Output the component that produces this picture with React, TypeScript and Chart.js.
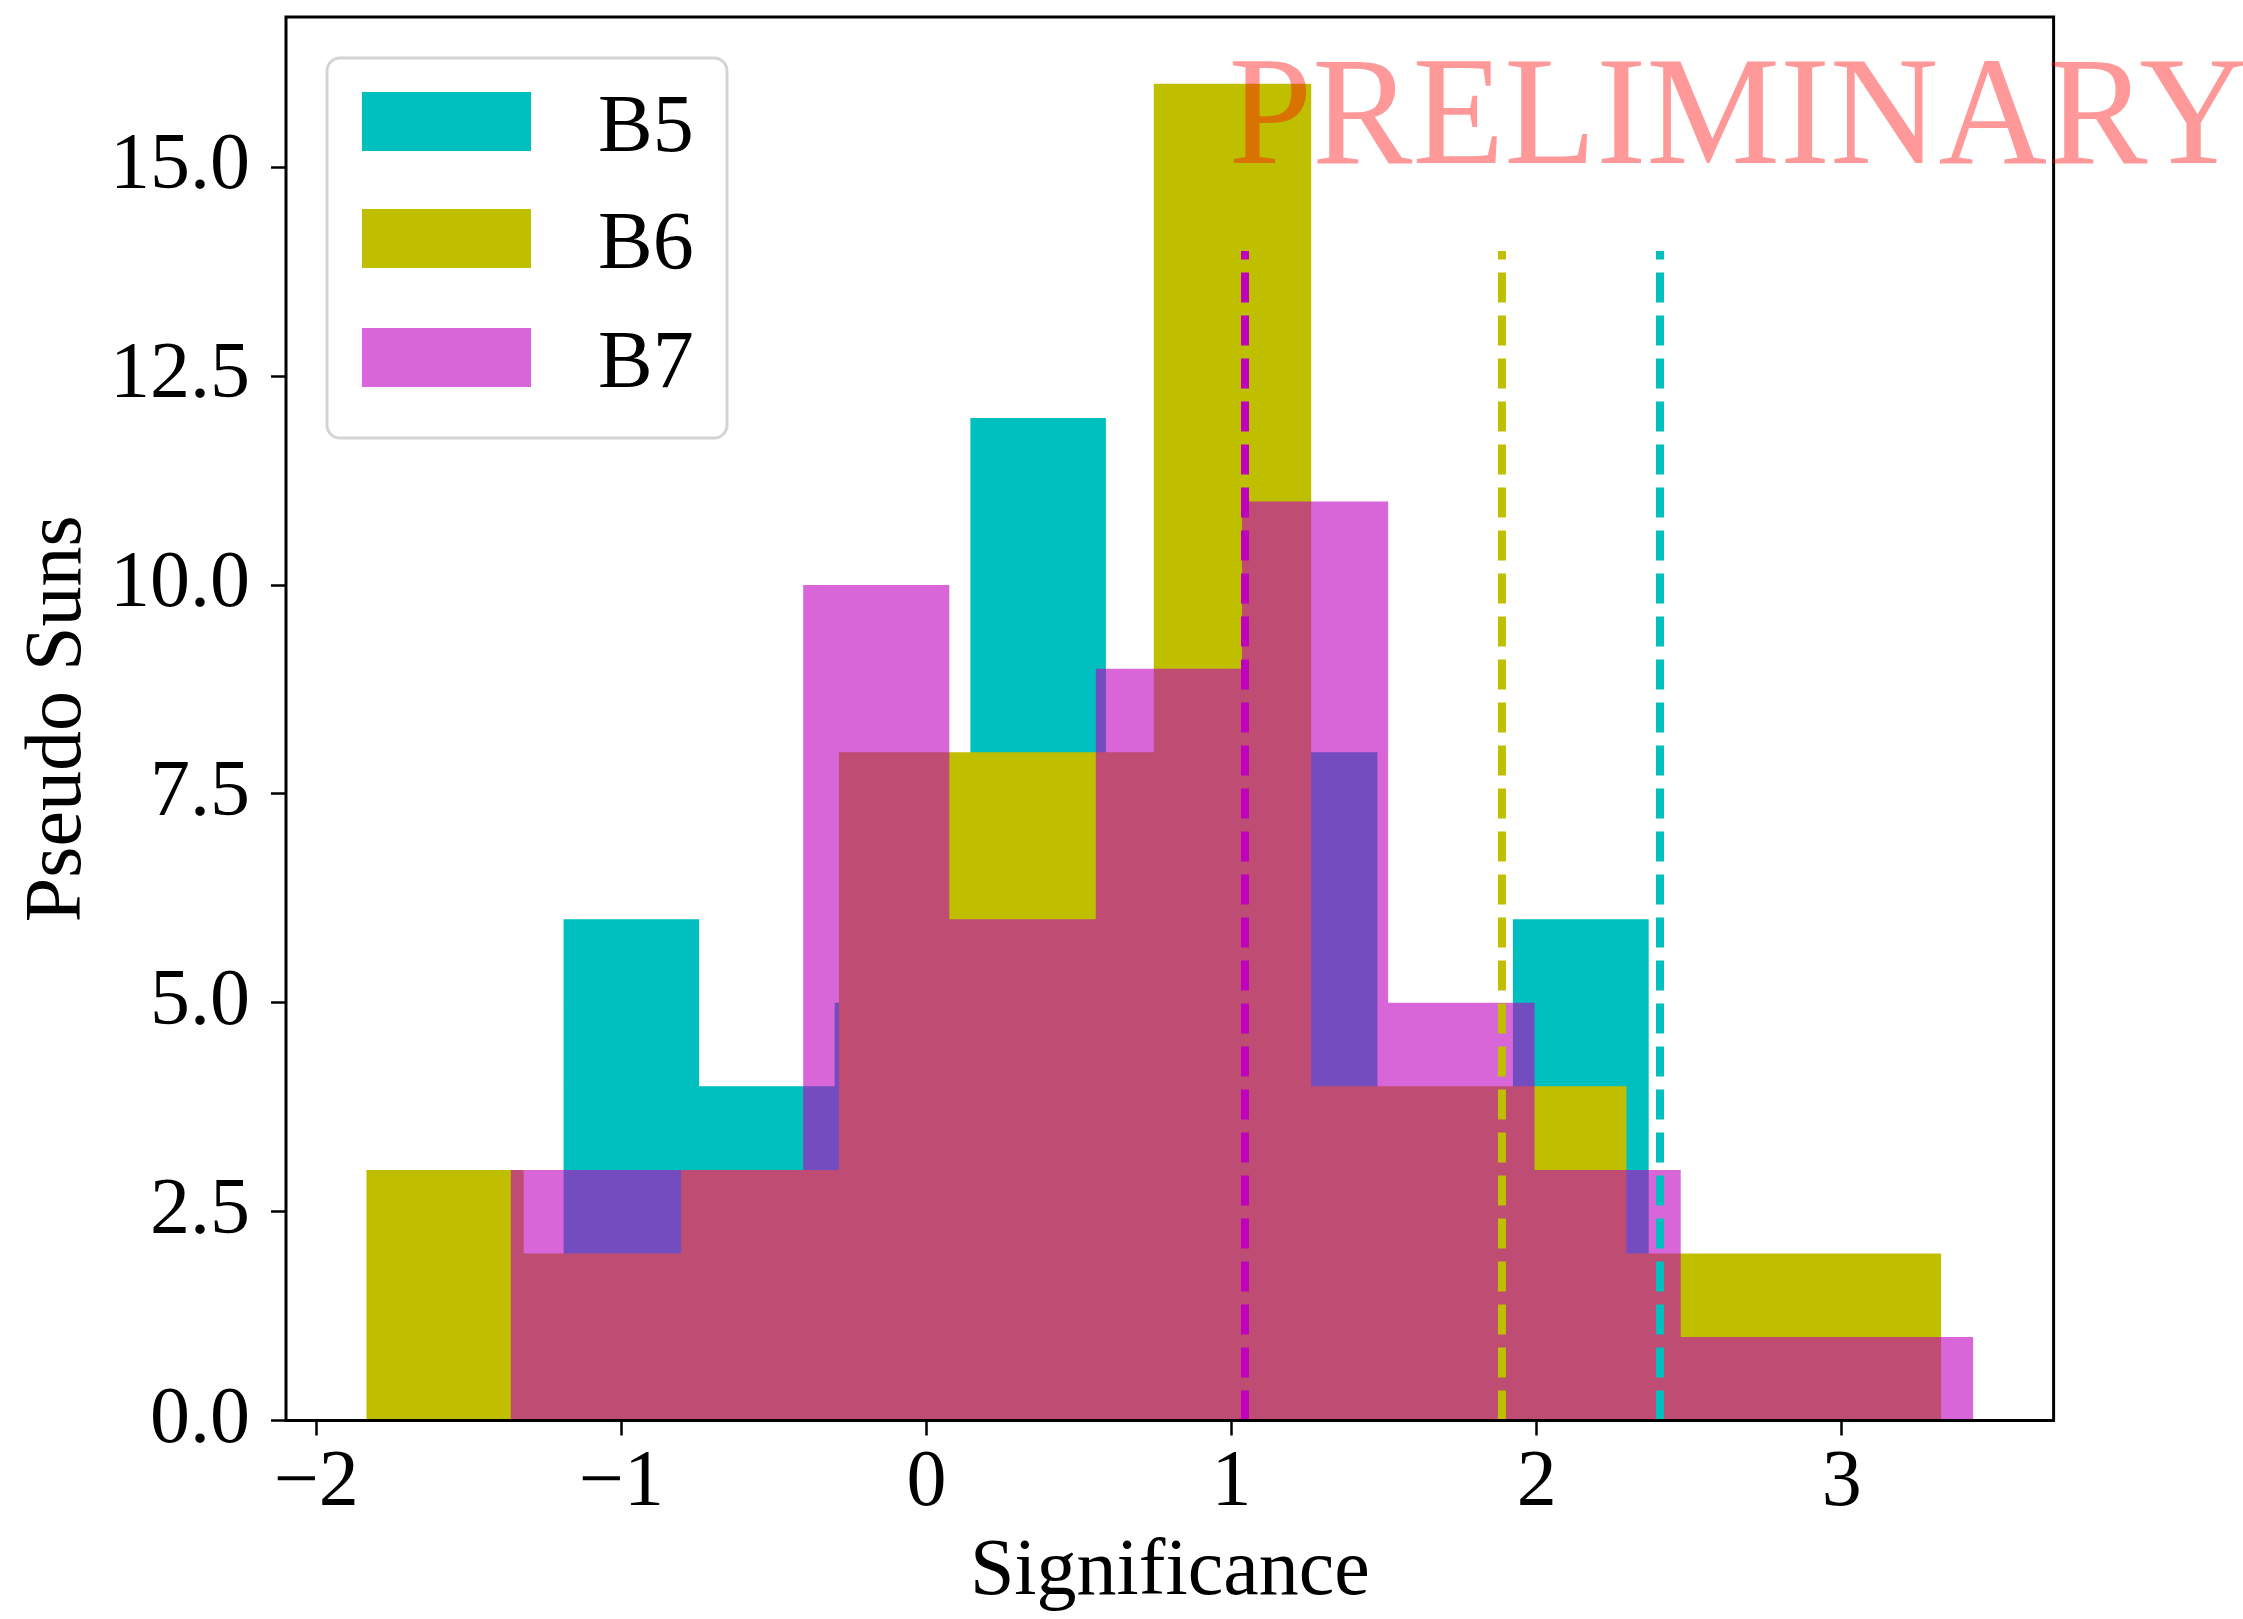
import React, { useEffect, useRef } from 'react';
import { Chart, registerables } from 'chart.js';

Chart.register(...registerables);

// ---------- data ----------
const seriesLabels = ['B5', 'B6', 'B7'];

const b5Edges = [-1.190, -0.745, -0.301, 0.144, 0.588, 1.033, 1.478, 1.922, 2.367, 2.811, 3.256];
const b5Counts = [6, 4, 5, 12, 7, 8, 2, 6, 1, 1];

const b6Edges = [-1.836, -1.320, -0.804, -0.287, 0.229, 0.745, 1.261, 1.777, 2.294, 2.810, 3.326];
const b6Counts = [3, 2, 3, 8, 8, 16, 4, 4, 2, 2];

const b7Edges = [-1.363, -0.884, -0.404, 0.075, 0.555, 1.034, 1.513, 1.993, 2.472, 2.952, 3.431];
const b7Counts = [3, 3, 10, 6, 9, 11, 5, 3, 1, 1];

// dashed marker lines (x position) for B5, B6, B7 and their top
const markerX = [2.404, 1.886, 1.044];
const markerTop = 14;

const xTickValues = [-2, -1, 0, 1, 2, 3];
const yTickValues = [0, 2.5, 5, 7.5, 10, 12.5, 15];

const X_MIN = -2.099;
const X_MAX = 3.694;
const Y_MAX = 16.8;

const watermarkText = 'PRELIMINARY';
const watermarkPos = { x: 1.0, y: 15.05 };

// ---------- styling ----------
const FAMILY = "'Liberation Serif', 'DejaVu Serif', serif";
const fillColors = ['#00bfbf', '#bfbf00', 'rgba(191,0,191,0.6)'];
const lineColors = ['#00bfbf', '#bfbf00', '#bf00bf'];

function stepPoints(edges: number[], counts: number[]) {
  const pts = counts.map((c, i) => ({ x: edges[i], y: c }));
  pts.push({ x: edges[edges.length - 1], y: counts[counts.length - 1] });
  return pts;
}

const histSets = [
  { edges: b5Edges, counts: b5Counts },
  { edges: b6Edges, counts: b6Counts },
  { edges: b7Edges, counts: b7Counts },
];

const framePlugin = {
  id: 'frame',
  afterDatasetsDraw(chart: any) {
    const { ctx, chartArea: a } = chart;
    ctx.save();
    ctx.strokeStyle = '#000';
    ctx.lineWidth = 3;
    ctx.strokeRect(a.left, a.top, a.right - a.left, a.bottom - a.top);
    ctx.restore();
  },
};

const legendPlugin = {
  id: 'insideLegend',
  afterDraw(chart: any) {
    const { ctx, chartArea: a } = chart;
    const bx = a.left + 41;
    const by = a.top + 41;
    const bw = 400;
    const bh = 380;
    const r = 13;
    ctx.save();
    ctx.beginPath();
    ctx.moveTo(bx + r, by);
    ctx.lineTo(bx + bw - r, by);
    ctx.arcTo(bx + bw, by, bx + bw, by + r, r);
    ctx.lineTo(bx + bw, by + bh - r);
    ctx.arcTo(bx + bw, by + bh, bx + bw - r, by + bh, r);
    ctx.lineTo(bx + r, by + bh);
    ctx.arcTo(bx, by + bh, bx, by + bh - r, r);
    ctx.lineTo(bx, by + r);
    ctx.arcTo(bx, by, bx + r, by, r);
    ctx.closePath();
    ctx.fillStyle = 'rgba(255,255,255,0.8)';
    ctx.fill();
    ctx.strokeStyle = '#d4d4d4';
    ctx.lineWidth = 3;
    ctx.stroke();

    const ds = chart.data.datasets;
    const rowTops = [75, 192, 311];
    ctx.font = `82px ${FAMILY}`;
    ctx.textBaseline = 'alphabetic';
    ctx.textAlign = 'left';
    for (let i = 0; i < 3; i++) {
      const top = a.top + rowTops[i];
      ctx.fillStyle = ds[i].backgroundColor;
      ctx.fillRect(a.left + 76, top, 169, 59);
      ctx.fillStyle = '#000';
      ctx.fillText(ds[i].label, a.left + 312, top + 59);
    }
    ctx.restore();
  },
};

const watermarkPlugin = {
  id: 'watermark',
  afterDraw(chart: any) {
    const { ctx, scales } = chart;
    const px = scales.x.getPixelForValue(watermarkPos.x);
    const py = scales.y.getPixelForValue(watermarkPos.y);
    ctx.save();
    ctx.translate(px - 3, py);
    ctx.scale(0.97, 1);
    ctx.font = `155px ${FAMILY}`;
    ctx.fillStyle = 'rgba(255,0,0,0.4)';
    ctx.textAlign = 'left';
    ctx.textBaseline = 'alphabetic';
    ctx.fillText(watermarkText, 0, 0);
    ctx.restore();
  },
};

export default function App() {
  const ref = useRef<HTMLCanvasElement>(null);

  useEffect(() => {
    const canvas = ref.current;
    if (!canvas) return;

    const histDatasets = histSets.map((h, i) => ({
      type: 'line' as const,
      label: seriesLabels[i],
      data: stepPoints(h.edges, h.counts),
      stepped: 'before' as const,
      fill: 'origin',
      backgroundColor: fillColors[i],
      borderColor: 'rgba(0,0,0,0)',
      borderWidth: 0,
      pointRadius: 0,
      pointHoverRadius: 0,
      order: 3 - i,
    }));

    const markerDatasets = markerX.map((x, i) => ({
      type: 'line' as const,
      label: seriesLabels[i] + ' marker',
      data: [
        { x, y: 0 },
        { x, y: markerTop },
      ],
      fill: false,
      borderColor: lineColors[i],
      borderWidth: 8,
      borderDash: [30, 13],
      borderCapStyle: 'butt' as const,
      pointRadius: 0,
      pointHoverRadius: 0,
      order: 0,
    }));

    const chart = new Chart(canvas, {
      type: 'line',
      data: { datasets: [...histDatasets, ...markerDatasets] as any },
      options: {
        animation: false,
        responsive: false,
        devicePixelRatio: 1,
        events: [],
        layout: { padding: { left: 0, right: 189.4, top: 17, bottom: 0 } },
        plugins: {
          legend: { display: false },
          tooltip: { enabled: false },
        },
        scales: {
          x: {
            type: 'linear',
            min: X_MIN,
            max: X_MAX,
            afterFit: (s: any) => {
              s.height = 198.5;
              s.paddingLeft = 0;
              s.paddingRight = 0;
              s.paddingTop = 0;
              s.paddingBottom = 0;
            },
            afterBuildTicks: (s: any) => {
              s.ticks = xTickValues.map((v) => ({ value: v }));
            },
            grid: {
              drawOnChartArea: false,
              drawTicks: true,
              tickLength: 15,
              tickWidth: 2.5,
              tickColor: '#000',
            },
            border: { display: false },
            ticks: {
              autoSkip: false,
              maxRotation: 0,
              minRotation: 0,
              padding: 0,
              color: '#000',
              font: { size: 80, family: FAMILY },
              callback: (value: any) => {
                const v = Number(value);
                return v < 0 ? '\u2212' + Math.abs(v) : String(v);
              },
            },
            title: {
              display: true,
              text: 'Significance',
              color: '#000',
              font: { size: 80, family: FAMILY, lineHeight: 1.14 },
              padding: { top: 0, bottom: 0 },
            },
          },
          y: {
            type: 'linear',
            min: 0,
            max: Y_MAX,
            afterFit: (s: any) => {
              s.width = 286;
              s.paddingLeft = 0;
              s.paddingRight = 0;
              s.paddingTop = 0;
              s.paddingBottom = 0;
            },
            afterBuildTicks: (s: any) => {
              s.ticks = yTickValues.map((v) => ({ value: v }));
            },
            grid: {
              drawOnChartArea: false,
              drawTicks: true,
              tickLength: 15,
              tickWidth: 2.5,
              tickColor: '#000',
            },
            border: { display: false },
            ticks: {
              padding: 21,
              color: '#000',
              font: { size: 80, family: FAMILY },
              callback: (value: any) => Number(value).toFixed(1),
            },
            title: {
              display: true,
              text: 'Pseudo Suns',
              color: '#000',
              font: { size: 80, family: FAMILY, lineHeight: 1.2 },
              padding: { top: 11, bottom: 0 },
            },
          },
        },
      } as any,
      plugins: [framePlugin, legendPlugin, watermarkPlugin],
    });

    return () => chart.destroy();
  }, []);

  return (
    <div
      style={{
        position: 'fixed',
        left: 0,
        top: 0,
        width: 2243,
        height: 1619,
        background: '#fff',
      }}
    >
      <canvas
        ref={ref}
        width={2243}
        height={1619}
        style={{ width: 2243, height: 1619, display: 'block' }}
      />
    </div>
  );
}
